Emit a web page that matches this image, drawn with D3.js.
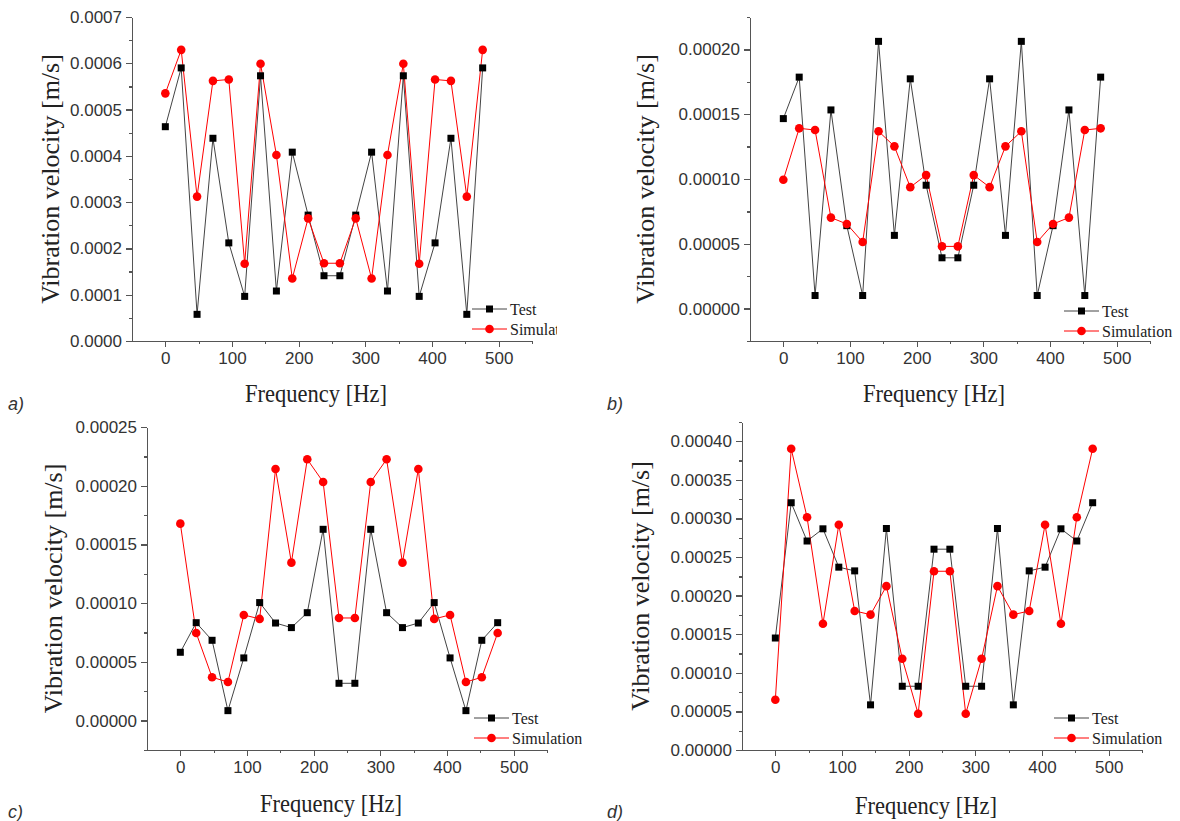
<!DOCTYPE html>
<html lang="en">
	<head>
		<meta charset="utf-8">
		<title>Vibration velocity: test vs simulation</title>
		<script type="text/javascript" src="https://cdn.jsdelivr.net/npm/d3@7"></script>
		<style type="text/css">
			body { margin: 0; background: #fff; }
			.axis path, .axis line { stroke: #555; stroke-width: 1.3; shape-rendering: crispEdges; }
			.axis text { font-family: "Liberation Sans", Arial, sans-serif; font-size: 17px; fill: #333; }
			.title { font-family: "Liberation Serif", "Times New Roman", serif; font-size: 26px; fill: #222; }
			.legendText { font-family: "Liberation Serif", "Times New Roman", serif; font-size: 16px; fill: #222; }
			.panelLabel { font-family: "Liberation Sans", Arial, sans-serif; font-style: italic; font-size: 18px; fill: #333; }
			.testLine { fill: none; stroke: #444; stroke-width: 1; }
			.simLine { fill: none; stroke: #f00; stroke-width: 1; }
		</style>
	</head>
	<body>
		<script type="text/javascript">

			var w = 1180;
			var h = 821;

			//Frequencies [Hz], same for every panel
			var freq = [0, 23.8, 47.6, 71.4, 95.2, 119, 142.8, 166.6, 190.4, 214.2, 238,
						261.8, 285.6, 309.4, 333.2, 357, 380.8, 404.6, 428.4, 452.2, 476];
			var xTicks = [0, 100, 200, 300, 400, 500];
			var xMinor = [50, 150, 250, 350, 450, 550];

			//a)
			var testA = [0.000463, 0.000590, 0.0000576, 0.000438, 0.000212, 0.0000964, 0.000573, 0.000108, 0.000408, 0.000272, 0.000141,
						 0.000141, 0.000272, 0.000408, 0.000108, 0.000573, 0.0000964, 0.000212, 0.000438, 0.0000576, 0.000590];
			var simA = [0.000535, 0.000629, 0.000312, 0.000562, 0.000565, 0.000167, 0.000599, 0.000402, 0.000135, 0.000265, 0.000168,
						0.000168, 0.000265, 0.000135, 0.000402, 0.000599, 0.000167, 0.000565, 0.000562, 0.000312, 0.000629];
			var yTicksA = [0, 0.0001, 0.0002, 0.0003, 0.0004, 0.0005, 0.0006, 0.0007];

			//b)
			var testB = [0.0001466, 0.0001786, 0.0000101, 0.0001533, 0.0000640, 0.0000101, 0.0002062, 0.0000565, 0.0001773, 0.0000952, 0.0000392,
						 0.0000392, 0.0000952, 0.0001773, 0.0000565, 0.0002062, 0.0000101, 0.0000640, 0.0001533, 0.0000101, 0.0001786];
			var simB = [0.0000994, 0.0001391, 0.0001378, 0.0000702, 0.0000653, 0.0000514, 0.0001368, 0.0001252, 0.0000937, 0.0001030, 0.0000480,
						0.0000480, 0.0001030, 0.0000937, 0.0001252, 0.0001368, 0.0000514, 0.0000653, 0.0000702, 0.0001378, 0.0001391];
			var yTicksB = [0, 0.00005, 0.0001, 0.00015, 0.0002];

			//c)
			var testC = [0.0000582, 0.0000834, 0.0000684, 0.0000085, 0.0000534, 0.0001005, 0.0000831, 0.0000792, 0.0000919, 0.0001629, 0.0000318,
						 0.0000318, 0.0001629, 0.0000919, 0.0000792, 0.0000831, 0.0001005, 0.0000534, 0.0000085, 0.0000684, 0.0000834];
			var simC = [0.0001677, 0.0000746, 0.0000369, 0.0000329, 0.0000900, 0.0000866, 0.0002142, 0.0001345, 0.0002225, 0.0002032, 0.0000874,
						0.0000874, 0.0002032, 0.0002225, 0.0001345, 0.0002142, 0.0000866, 0.0000900, 0.0000329, 0.0000369, 0.0000746];
			var yTicksC = [0, 0.00005, 0.0001, 0.00015, 0.0002, 0.00025];

			//d)
			var testD = [0.0001451, 0.0003204, 0.0002708, 0.0002866, 0.0002369, 0.0002321, 0.0000585, 0.0002870, 0.0000826, 0.0000826, 0.0002602,
						 0.0002602, 0.0000826, 0.0000826, 0.0002870, 0.0000585, 0.0002321, 0.0002369, 0.0002866, 0.0002708, 0.0003204];
			var simD = [0.0000651, 0.0003903, 0.0003015, 0.0001635, 0.0002919, 0.0001802, 0.0001754, 0.0002123, 0.0001182, 0.0000470, 0.0002316,
						0.0002316, 0.0000470, 0.0001182, 0.0002123, 0.0001754, 0.0001802, 0.0002919, 0.0001635, 0.0003015, 0.0003903];
			var yTicksD = [0, 0.00005, 0.0001, 0.00015, 0.0002, 0.00025, 0.0003, 0.00035, 0.0004];

			var seriesNames = ["Test", "Simulation"];

			//Panel layout (pixels)
			var panels = [
				{ label: "a)", test: testA, sim: simA, yDomain: [0, 0.0007], yTicks: yTicksA, fmt: ".4f", yStep: 0.00005,
				  left: 132, right: 532, top: 17, bottom: 341, clipW: 557, labelXY: [8, 410], yTitleX: 50, xTitleY: 402, legendXY: [510, 309] },
				{ label: "b)", test: testB, sim: simB, yDomain: [-0.000025, 0.000225], yTicks: yTicksB, fmt: ".5f", yStep: 0.000025,
				  left: 750, right: 1150, top: 17, bottom: 341, clipW: 1180, labelXY: [607, 410], yTitleX: 645, xTitleY: 402, legendXY: [1102, 311] },
				{ label: "c)", test: testC, sim: simC, yDomain: [-0.000025, 0.00025], yTicks: yTicksC, fmt: ".5f", yStep: 0.000025,
				  left: 147, right: 547, top: 427, bottom: 750, clipW: 582, labelXY: [8, 818], yTitleX: 53, xTitleY: 812, legendXY: [512, 718] },
				{ label: "d)", test: testD, sim: simD, yDomain: [0, 0.000425], yTicks: yTicksD, fmt: ".5f", yStep: 0.000025,
				  left: 742, right: 1142, top: 422, bottom: 750, clipW: 1180, labelXY: [607, 818], yTitleX: 640, xTitleY: 814, legendXY: [1092, 718] }
			];

			var svg = d3.select("body")
						.append("svg")
						.attr("width", w)
						.attr("height", h);

			panels.forEach(function(p, i) {

				var clipId = "clip" + i;
				svg.append("clipPath")
					.attr("id", clipId)
					.append("rect")
					.attr("x", 0)
					.attr("y", 0)
					.attr("width", p.clipW)
					.attr("height", h);

				var g = svg.append("g").attr("clip-path", "url(#" + clipId + ")");

				var xScale = d3.scaleLinear().domain([-50, 550]).range([p.left, p.right]);
				var yScale = d3.scaleLinear().domain(p.yDomain).range([p.bottom, p.top]);

				//minor ticks
				var yMinor = d3.range(p.yDomain[0], p.yDomain[1] + 1e-9, p.yStep);

				g.append("g")
					.attr("class", "axis")
					.attr("transform", "translate(0," + p.bottom + ")")
					.call(d3.axisBottom(xScale).tickValues(xMinor).tickSize(3).tickFormat("").tickSizeOuter(0));
				g.append("g")
					.attr("class", "axis")
					.attr("transform", "translate(" + p.left + ",0)")
					.call(d3.axisLeft(yScale).tickValues(yMinor).tickSize(3).tickFormat("").tickSizeOuter(0));

				//major axes
				g.append("g")
					.attr("class", "axis")
					.attr("transform", "translate(0," + p.bottom + ")")
					.call(d3.axisBottom(xScale).tickValues(xTicks).tickSize(6).tickPadding(5).tickSizeOuter(0));
				g.append("g")
					.attr("class", "axis")
					.attr("transform", "translate(" + p.left + ",0)")
					.call(d3.axisLeft(yScale).tickValues(p.yTicks).tickSize(6).tickPadding(4).tickSizeOuter(0)
						.tickFormat(d3.format(p.fmt)));

				var line = function(vals) {
					return d3.line()
						.x(function(d, j) { return xScale(freq[j]); })
						.y(function(d) { return yScale(d); })(vals);
				};

				g.append("path").attr("class", "testLine").attr("d", line(p.test));
				g.append("path").attr("class", "simLine").attr("d", line(p.sim));

				g.selectAll(".sq")
					.data(p.test)
					.enter()
					.append("rect")
					.attr("x", function(d, j) { return xScale(freq[j]) - 3.5; })
					.attr("y", function(d) { return yScale(d) - 3.5; })
					.attr("width", 7)
					.attr("height", 7)
					.attr("fill", "#000");

				g.selectAll(".dot")
					.data(p.sim)
					.enter()
					.append("circle")
					.attr("cx", function(d, j) { return xScale(freq[j]); })
					.attr("cy", function(d) { return yScale(d); })
					.attr("r", 4.3)
					.attr("fill", "#f00");

				//Axis titles
				g.append("text")
					.attr("class", "title")
					.attr("text-anchor", "middle")
					.attr("transform", "translate(" + p.yTitleX + "," + ((p.top + p.bottom) / 2) + ") rotate(-90)")
					.attr("dy", "0.35em")
					.text("Vibration velocity [m/s]");

				g.append("text")
					.attr("class", "title")
					.attr("text-anchor", "middle")
					.attr("x", (p.left + p.right) / 2 - 16)
					.attr("y", p.xTitleY)
					.attr("textLength", 142)
					.attr("lengthAdjust", "spacingAndGlyphs")
					.text("Frequency [Hz]");

				//Legend
				var lx = p.legendXY[0], ly = p.legendXY[1];
				[0, 1].forEach(function(k) {
					var yy = ly + k * 20;
					g.append("line")
						.attr("x1", lx - 38).attr("x2", lx - 3)
						.attr("y1", yy).attr("y2", yy)
						.attr("stroke", k === 0 ? "#444" : "#f00")
						.attr("stroke-width", 1);
					if (k === 0) {
						g.append("rect").attr("x", lx - 24).attr("y", yy - 3.5).attr("width", 7).attr("height", 7).attr("fill", "#000");
					} else {
						g.append("circle").attr("cx", lx - 20.5).attr("cy", yy).attr("r", 4.3).attr("fill", "#f00");
					}
					g.append("text")
						.attr("class", "legendText")
						.attr("x", lx)
						.attr("y", yy)
						.attr("dy", "0.35em")
						.text(seriesNames[k]);
				});

				//Panel letter
				svg.append("text")
					.attr("class", "panelLabel")
					.attr("x", p.labelXY[0])
					.attr("y", p.labelXY[1])
					.text(p.label);
			});

		</script>
	</body>
</html>
